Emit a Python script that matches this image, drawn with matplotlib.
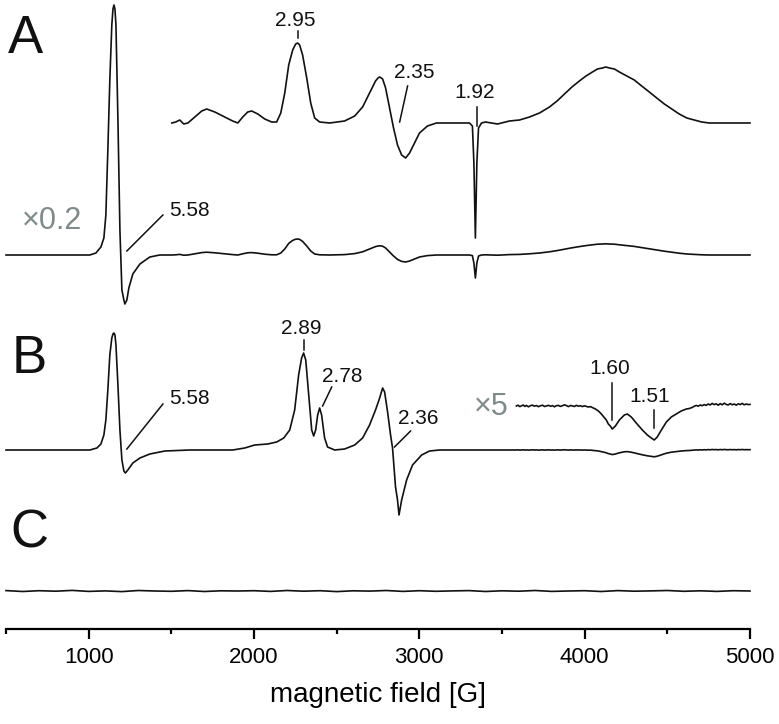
import numpy as np
import matplotlib
matplotlib.use("Agg")
import matplotlib.pyplot as plt
from matplotlib.ticker import MultipleLocator

plt.rcParams["font.family"] = ["Liberation Sans", "DejaVu Sans"]

# ---------------- data ----------------
# panel A, full-scale (x1) derivative signal, arbitrary units
a_field = [500, 826, 1007, 1044, 1074, 1092, 1104, 1116, 1128, 1140,
           1147, 1153, 1159, 1165, 1177, 1189, 1201, 1213, 1219, 1231,
           1243, 1267, 1310, 1370, 1430, 1470, 1503, 1527, 1551, 1575,
           1600, 1642, 1684, 1714, 1763, 1823, 1871, 1902, 1932, 1962,
           1986, 2023, 2065, 2107, 2137, 2162, 2186, 2210, 2234, 2252,
           2264, 2276, 2294, 2319, 2343, 2367, 2397, 2458, 2548, 2609,
           2657, 2699, 2735, 2750, 2760, 2770, 2778, 2796, 2820, 2844,
           2868, 2893, 2917, 2941, 2971, 3001, 3049, 3104, 3303, 3321,
           3330, 3339, 3348, 3358, 3376, 3400, 3436, 3473, 3545, 3606,
           3666, 3727, 3787, 3833, 3878, 3923, 3968, 4008, 4047, 4077,
           4107, 4128, 4149, 4180, 4210, 4255, 4300, 4345, 4391, 4436,
           4482, 4527, 4572, 4618, 4663, 4708, 4754, 4850, 5000]
a_signal = [0, 0, 0, 10, 40, 85, 200, 525, 875, 1150,
            1230, 1250, 1230, 1150, 675, 125, -175, -225, -245, -225,
            -165, -95, -45, -10, 0, 0, 0, 1, 3, -1,
            0, 6, 12, 14, 11, 6, 2, 0, 6, 11,
            12, 9, 4, 1, 1, 10, 30, 58, 73, 79,
            80, 78, 68, 45, 20, 5, 1, 0, 2, 7,
            16, 30, 42, 45, 46, 45, 44, 35, 15, -5,
            -22, -32, -35, -30, -20, -10, -3, 0, 0, -3,
            -40, -115, -40, -5, 0, 1, 0, -1, 2, 3,
            6, 10, 16, 22, 29, 36, 42, 47, 51, 54,
            55, 56, 55, 54, 51, 47, 43, 37, 31, 25,
            19, 14, 9, 5, 3, 1, 0, 0, 0]

# panel B, x1 signal (low field part)
b_field = [500, 1007, 1050, 1074, 1092, 1104, 1116, 1128, 1140, 1147,
           1153, 1159, 1165, 1177, 1189, 1201, 1213, 1222, 1237, 1267,
           1310, 1370, 1461, 1612, 1872, 1944, 2004, 2083, 2137, 2180,
           2216, 2246, 2270, 2288, 2300, 2313, 2331, 2349, 2361, 2373,
           2385, 2397, 2409, 2427, 2445, 2488, 2548, 2609, 2657, 2699,
           2735, 2760, 2778, 2790, 2808, 2826, 2838, 2856, 2868, 2877,
           2893, 2923, 2959, 3014, 3062, 3122, 3560]
b_signal = [0, 0, 2, 6, 15, 30, 60, 95, 112, 116,
            117, 115, 105, 65, 20, -10, -21, -23, -20, -13,
            -8, -4, -1, 0, 0, 2, 5, 6, 8, 12,
            20, 40, 75, 92, 97, 90, 55, 20, 14, 20,
            35, 42, 35, 12, 3, 0, 1, 5, 12, 25,
            40, 52, 62, 58, 38, 15, 2, -37, -50, -65,
            -50, -30, -15, -5, -1, 0, 0]

# panel B, high field part as recorded at x5
b_hi_field = [3587, 3597, 3608, 3618, 3628, 3638, 3648, 3660, 3672, 3684,
              3696, 3708, 3720, 3732, 3745, 3757, 3770, 3782, 3794, 3806,
              3817, 3829, 3841, 3853, 3865, 3877, 3890, 3902, 3914, 3926,
              3938, 3950, 3962, 3974, 3986, 3998, 4010, 4022, 4035, 4047,
              4065, 4083, 4101, 4116, 4131, 4143, 4155, 4167, 4186, 4210,
              4240, 4258, 4282, 4312, 4349, 4379, 4403, 4421, 4439, 4464,
              4494, 4524, 4554, 4584, 4615, 4633, 4651, 4663, 4675, 4687,
              4699, 4711, 4723, 4735, 4747, 4759, 4771, 4783, 4795, 4808,
              4820, 4832, 4844, 4856, 4868, 4880, 4893, 4905, 4917, 4929,
              4941, 4953, 4965, 4977, 4989, 5000]
b_hi_x5 = [0, 0.8, -0.6, 0.2, 1.0, -0.4, 0.6, -0.8, 0.3, 0.9,
           -0.2, 0.5, -0.7, 0.2, 0.8, -0.5, 0.1, 0.7, -0.3, 0.4,
           -0.8, 0.3, 0.6, -0.4, 0.2, 1.2, 0.4, -0.6, 0.5, 0.1,
           -0.5, 0.7, -0.2, 0.3, -0.6, 0.2, -0.4, -1.0, -0.6, -1.6,
           -3, -5, -8, -11, -14, -18, -20, -23, -20, -14,
           -9, -8, -11, -17, -24, -29, -32, -34, -31, -24,
           -16, -11, -8, -5, -3, -2.5, -1.4, -0.2, 0.6, -0.2,
           1.0, 0.3, 1.4, 0.6, 2.0, 1.0, 2.6, 1.4, 2.2, 0.8,
           2.4, 1.2, 2.8, 1.6, 1.0, 2.4, 1.2, 2.0, 0.8, 2.2,
           1.4, 2.6, 1.2, 2.0, 1.4, 1.6]

# panel C, only noise
c_field = list(range(500, 5001, 100))
c_signal = [0.4, -0.5, 0.3, -0.2, 0.6, -0.4, 0.1, -0.6, 0.5, 0.0,
            -0.3, 0.4, -0.5, 0.2, 0.0, 0.3, -0.4, 0.5, -0.2, 0.3,
            -0.6, 0.2, -0.1, 0.5, -0.4, 0.3, -0.3, 0.1, 0.4, -0.5,
            0.2, -0.2, 0.5, -0.4, 0.0, 0.3, -0.5, 0.4, -0.2, 0.1,
            0.5, -0.3, 0.2, -0.4, 0.3, 0.0]

# (text, x, y) of g-value labels and their marker lines
g_labels = [("2.95", 2250, 609), ("2.35", 2971, 557), ("1.92", 3334, 536),
            ("5.58", 1612, 419), ("2.89", 2288, 301), ("2.78", 2536, 252),
            ("5.58", 1612, 231), ("2.36", 2995, 211), ("1.60", 4149, 260),
            ("1.51", 4391, 233)]
g_marks = [((2264, 2264), (598, 591)), ((2929, 2881), (543, 507)),
           ((3346, 3346), (522, 503)), ((1449, 1231), (414, 378)),
           ((2300, 2300), (289, 279)), ((2470, 2415), (242, 223)),
           ((1449, 1231), (225, 180)), ((2947, 2850), (198, 182)),
           ((4167, 4167), (246, 209)), ((4421, 4421), (219, 201))]

# ---------------- figure ----------------
W, H = 779, 724
fig = plt.figure(figsize=(W / 100, H / 100), dpi=100)
ax = fig.add_axes([6 / W, 95 / H, 744 / W, 629 / H])
ax.set_xlim(500, 5000)
ax.set_ylim(0, 629)

line_kw = dict(color="#111111", lw=1.2, clip_on=False, solid_joinstyle="round")
gray = "#7f8b8b"

a_field = np.array(a_field)
a_signal = np.array(a_signal, dtype=float)
upper = a_field >= 1500

# A: x0.2 overview and x1 expansion
ax.plot(a_field, 374 + 0.2 * a_signal, **line_kw)
ax.plot(a_field[upper], 506 + a_signal[upper], **line_kw)

# B: x1 trace (high field part scaled back from x5) and x5 expansion
b_all_field = b_field + b_hi_field
b_all_signal = b_signal + [v / 5 for v in b_hi_x5]
ax.plot(b_all_field, 179 + np.array(b_all_signal), **line_kw)
ax.plot(b_hi_field, 223 + np.array(b_hi_x5), **line_kw)

# C
ax.plot(c_field, 38 + np.array(c_signal), **line_kw)

for txt, x, y in g_labels:
    ax.text(x, y, txt, ha="center", va="center", fontsize=15, color="#111111")
for xs, ys in g_marks:
    ax.plot(xs, ys, color="#111111", lw=1.1)

ax.text(778, 408, "×0.2", ha="center", va="center", fontsize=22, color=gray)
ax.text(3436, 222, "×5", ha="center", va="center", fontsize=22, color=gray)

for lab, x, y in [("A", 512, 576), ("B", 536, 256), ("C", 524, 81)]:
    ax.text(x, y, lab, ha="left", va="baseline", fontsize=38, color="#111111")

for s in ["left", "right", "top"]:
    ax.spines[s].set_visible(False)
ax.spines["bottom"].set_linewidth(1.6)
ax.set_yticks([])
ax.xaxis.set_major_locator(MultipleLocator(1000))
ax.xaxis.set_minor_locator(MultipleLocator(500))
ax.tick_params(axis="x", which="major", length=7, width=1.6, labelsize=16, pad=6)
ax.tick_params(axis="x", which="minor", length=3.5, width=1.6)
ax.set_xlabel("magnetic field [G]", fontsize=20, labelpad=10)

fig.savefig("out.png", dpi=100)
